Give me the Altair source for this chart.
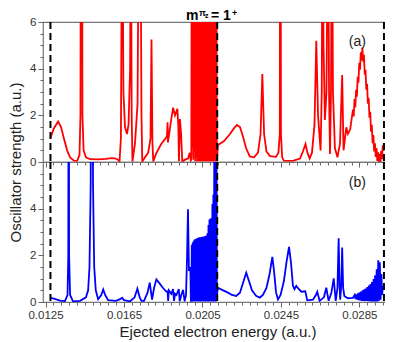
import altair as alt
import pandas as pd

# ---------------- data ----------------
X_DOMAIN = [0.01237, 0.03016]
Y_DOMAIN = [0, 6]
thresholds = [0.01275, 0.02125, 0.02975]

x_tick_labels = [0.0125, 0.0165, 0.0205, 0.0245, 0.0285]
y_tick_labels_top = [0, 2, 4, 6]
y_tick_labels_bot = [0, 2, 4]

# red curve (panel a), part 1: threshold -> dense block
red_x_1 = [0.01275, 0.01293, 0.01314, 0.01329, 0.01344, 0.01360, 0.01375, 0.01395, 0.01411,
           0.01423, 0.01428, 0.01431, 0.01435, 0.01438, 0.01444,
           0.01456, 0.01477, 0.01518, 0.01558, 0.01584, 0.01604, 0.01619, 0.01627, 0.01634,
           0.01641, 0.01647, 0.01655, 0.01665, 0.01673, 0.01681, 0.01685, 0.01689, 0.01693,
           0.01706, 0.01719, 0.01726, 0.01733, 0.01739, 0.01743, 0.01757, 0.01773, 0.01785,
           0.01790, 0.01795, 0.01799, 0.01813, 0.01838, 0.01869, 0.01872, 0.01874, 0.01885,
           0.01900, 0.01910, 0.01922, 0.01927, 0.01930, 0.01935, 0.01941, 0.01947, 0.01961,
           0.01976, 0.01985, 0.01991]
red_y_1 = [1.04, 1.45, 1.73, 1.5, 1.0, 0.5, 0.2, 0.06, 0.05,
           0.3, 2.0, 20, 20, 2.0, 0.5,
           0.2, 0.12, 0.11, 0.13, 0.17, 0.16, 0.10, 0.02, 1.0,
           12, 3, 1.5, 1.2, 1.6, 4, 12, 2, 0.02,
           0.8, 2.5, 12, 12, 2.0, 0.02, 0.2, 0.4, 1.0,
           5.25, 0.8, 0.02, 0.35, 0.75, 1.1, 1.7, 0.84, 1.5,
           2.33, 2.0, 2.28, 1.5, 0.03, 1.84, 1.2, 0.02, 0.1,
           0.15, 0.4, 0.02]

# energies of the dense resonance series below the middle threshold
dense_x = [0.019930, 0.019955, 0.019980, 0.020005, 0.020030, 0.020055, 0.020080, 0.020105,
           0.020130, 0.020155, 0.020180, 0.020205, 0.020230, 0.020255, 0.020280, 0.020305,
           0.020330, 0.020355, 0.020380, 0.020405, 0.020430, 0.020455, 0.020480, 0.020505,
           0.020530, 0.020555, 0.020580, 0.020605, 0.020630, 0.020655, 0.020680, 0.020705,
           0.020730, 0.020755, 0.020780, 0.020805, 0.020830, 0.020855, 0.020880, 0.020905,
           0.020930, 0.020955, 0.020980, 0.021005, 0.021030, 0.021055, 0.021080, 0.021105,
           0.021130, 0.021155, 0.021180, 0.021205, 0.021230]
red_dense_y = [0.3, 12, 0.6, 12, 0.1, 12, 0.45, 12, 0.02, 12, 0.2, 12, 0.02, 12,
               0.02, 12, 0.02, 12, 0.02, 12, 0.02, 12, 0.02, 12, 0.02, 12,
               0.02, 12, 0.02, 12, 0.02, 12, 0.02, 12, 0.02, 12, 0.02, 12,
               0.02, 12, 0.02, 12, 0.02, 12, 0.02, 12, 0.02, 12, 0.02, 12,
               0.02, 12, 0.02]

# red curve, part 2: middle threshold -> band
red_x_2 = [0.02129, 0.02160, 0.02190, 0.02211, 0.02226, 0.02241, 0.02256, 0.02272, 0.02291,
           0.02313, 0.02333, 0.02346, 0.02355, 0.02364, 0.02376, 0.02394, 0.02425,
           0.02437, 0.02444, 0.02447, 0.02450, 0.02456,
           0.02465, 0.02511, 0.02547, 0.02562, 0.02575, 0.02585, 0.02596, 0.02608, 0.02621,
           0.02630, 0.02639, 0.02652, 0.02658, 0.02662, 0.02667, 0.02674, 0.02682, 0.02690,
           0.02695, 0.02700, 0.02705, 0.02710, 0.02715, 0.02725, 0.02738, 0.02751, 0.02762,
           0.02769, 0.02783, 0.02791, 0.02803]
red_y_2 = [0.73, 0.9, 1.2, 1.45, 1.59, 1.5, 1.1, 0.6, 0.24,
           0.2, 0.4, 1.2, 3.77, 1.2, 0.45, 0.25, 0.22,
           0.4, 1.2, 20, 1.2, 0.2,
           0.06, 0.05, 0.15, 0.45, 0.77, 0.4, 0.15, 0.4, 1.6,
           5.2, 2.0, 0.49, 3, 12, 5, 1.8, 3, 12,
           3, 0.34, 3, 12, 3, 0.6, 0.2, 0.8, 3.73,
           0.5, 1.49, 1.2, 1.4]

# red curve, fast oscillating band below the upper threshold
red_x_band = [0.02817, 0.02821, 0.02825, 0.02829, 0.02833, 0.02837, 0.02841, 0.02845, 0.02849,
              0.02853, 0.02857, 0.02861, 0.02865, 0.02869, 0.02873, 0.02877, 0.02881, 0.02885,
              0.02889, 0.02893, 0.02897, 0.02901, 0.02905, 0.02909, 0.02913, 0.02917, 0.02921,
              0.02925, 0.02929, 0.02933, 0.02937, 0.02941, 0.02945, 0.02949, 0.02953, 0.02957,
              0.02961, 0.02965, 0.02969, 0.02973, 0.02975]
red_y_band = [2.25, 1.95, 2.7, 2.35, 3.1, 2.8, 3.65, 3.4, 4.25,
              3.95, 4.7, 4.35, 4.9, 4.3, 4.6, 3.75, 3.95, 3.1,
              3.35, 2.5, 2.75, 1.9, 2.15, 1.3, 1.6, 0.8, 1.15,
              0.45, 0.8, 0.22, 0.6, 0.05, 0.42, 0.0, 0.35, 0.0,
              0.48, 0.12, 0.72, 0.48, 0.7]

# blue curve (panel b)
blue_x_1 = [0.01275, 0.01293, 0.01324, 0.01349, 0.01362, 0.01366, 0.01368, 0.01370, 0.01375,
            0.01390, 0.01426, 0.01456, 0.01467, 0.01474, 0.01480, 0.01486, 0.01492, 0.01498,
            0.01506, 0.01518, 0.01534, 0.01544, 0.01554, 0.01569, 0.01609, 0.01630, 0.01640,
            0.01650, 0.01681, 0.01704, 0.01718, 0.01730, 0.01739, 0.01752, 0.01770, 0.01781,
            0.01788, 0.01793, 0.01803, 0.01815, 0.01831, 0.01849, 0.01866, 0.01872, 0.01875,
            0.01878, 0.01891, 0.01900, 0.01905, 0.01910, 0.01917, 0.01929, 0.01934, 0.01942,
            0.01951, 0.01959, 0.01966, 0.01971, 0.01976, 0.01981, 0.01988, 0.01991]
blue_y_1 = [0.18, 0.14, 0.06, 0.04, 0.3, 2.0, 20, 2.0, 0.3,
            0.03, 0.05, 0.2, 0.5, 1.5, 5, 20, 5, 1.5,
            0.5, 0.12, 0.3, 0.54, 0.3, 0.08, 0.05, 0.12, 0.18,
            0.08, 0.03, 0.2, 0.57, 0.2, 0.05, 0.05, 0.4, 0.83,
            0.4, 0.1, 0.6, 0.97, 0.8, 0.6, 0.45, 0.45, 0.05,
            0.5, 0.35, 0.55, 0.05, 0.35, 0.3, 0.55, 0.03, 0.3,
            0.52, 0.03, 0.3, 1.83, 3.97, 1.33, 1.5, 0.05]
blue_dense_y = [0.05, 2.45, 0.02, 2.55, 0.02, 2.62, 0.02, 2.68, 0.02, 2.7, 0.02, 2.72,
                0.02, 2.74, 0.02, 2.76, 0.02, 2.77, 0.02, 2.78, 0.02, 2.79, 0.02, 2.8,
                0.02, 2.8, 0.02, 2.82, 0.02, 2.83, 0.02, 2.85, 0.02, 2.95, 0.02, 3.3,
                0.02, 3.54, 0.02, 3.57, 0.02, 3.6, 0.02, 4.2, 0.02, 4.6, 0.02, 8,
                0.02, 12, 0.02, 12, 0.3]
blue_x_2 = [0.02129, 0.02155, 0.02180, 0.02200, 0.02222, 0.02241, 0.02256, 0.02273, 0.02287,
            0.02302, 0.02323, 0.02342, 0.02358, 0.02376, 0.02392, 0.02406, 0.02415, 0.02425,
            0.02435, 0.02448, 0.02465, 0.02478, 0.02491, 0.02501, 0.02511, 0.02519, 0.02528,
            0.02537, 0.02554, 0.02574, 0.02584, 0.02613, 0.02628, 0.02635, 0.02647, 0.02669,
            0.02681, 0.02693, 0.02707, 0.02719, 0.02729, 0.02738, 0.02744, 0.02749, 0.02752,
            0.02758, 0.02762, 0.02767, 0.02773, 0.02791, 0.02817]
blue_y_2 = [0.61, 0.5, 0.4, 0.3, 0.26, 0.4, 0.8, 1.26, 0.9,
            0.5, 0.27, 0.19, 0.3, 0.6, 1.2, 1.93, 1.3, 0.4,
            0.11, 0.3, 0.9, 1.7, 2.36, 1.7, 0.7, 0.55, 0.69,
            0.59, 0.44, 0.46, 0.07, 0.1, 0.3, 0.44, 0.05, 0.2,
            0.61, 0.05, 0.4, 1.01, 0.05, 0.6, 2.73, 0.6, 0.1,
            0.8, 2.33, 0.6, 0.26, 0.16, 0.18]
blue_x_band = [0.02826, 0.02830, 0.02834, 0.02838, 0.02842, 0.02846, 0.02850, 0.02854, 0.02858,
               0.02862, 0.02866, 0.02870, 0.02874, 0.02878, 0.02882, 0.02886, 0.02890, 0.02894,
               0.02898, 0.02902, 0.02906, 0.02910, 0.02914, 0.02918, 0.02922, 0.02926, 0.02930,
               0.02934, 0.02938, 0.02942, 0.02946, 0.02950, 0.02954, 0.02958, 0.02962, 0.02966,
               0.02969]
blue_y_band = [0.3, 0.12, 0.33, 0.1, 0.37, 0.08, 0.41, 0.07, 0.45,
               0.05, 0.5, 0.05, 0.54, 0.04, 0.58, 0.04, 0.64, 0.03,
               0.7, 0.03, 0.77, 0.02, 0.86, 0.02, 0.98, 0.02, 1.15,
               0.02, 1.4, 0.02, 1.79, 0.05, 1.7, 0.1, 1.2, 0.3,
               0.69]

panel_labels = ["(a)", "(b)"]
panel_label_x = [0.02839, 0.02839]
panel_label_y = [5.13, 5.11]

title_parts = ["m", "\u03c0", "z", "= 1", "+"]

# ---------------- build tables ----------------
rx = red_x_1 + dense_x + red_x_2 + red_x_band
ry = red_y_1 + red_dense_y + red_y_2 + red_y_band
bx = blue_x_1 + dense_x + blue_x_2 + blue_x_band
by = blue_y_1 + blue_dense_y + blue_y_2 + blue_y_band
assert len(rx) == len(ry), (len(rx), len(ry))
assert len(bx) == len(by), (len(bx), len(by))
df_red = pd.DataFrame({"x": rx, "y": ry, "i": list(range(len(rx)))})
df_blue = pd.DataFrame({"x": bx, "y": by, "i": list(range(len(bx)))})
df_thr = pd.DataFrame({"x": thresholds})
df_lab_a = pd.DataFrame({"x": [panel_label_x[0]], "y": [panel_label_y[0]], "t": [panel_labels[0]]})
df_lab_b = pd.DataFrame({"x": [panel_label_x[1]], "y": [panel_label_y[1]], "t": [panel_labels[1]]})

FONT = "Liberation Sans"
W, H = 349, 140

x_minor = [round(0.0125 + 0.0004 * k, 5) for k in range(45)]
y_minor = [0.5 * k for k in range(13)]

xscale = alt.Scale(domain=X_DOMAIN, nice=False, zero=False)
yscale = alt.Scale(domain=Y_DOMAIN, nice=False)

AX = dict(domain=False, grid=False, tickColor="#666")


def panel(df, color, dflab, is_top):
    if is_top:
        x_major_axis = alt.Axis(values=x_tick_labels, labels=False, title=None, orient="bottom",
                                tickSize=5, **AX)
        y_major_axis = alt.Axis(values=y_tick_labels_top, title="Oscillator strength (a.u.)",
                                orient="left", tickSize=5, labelPadding=2,
                                titleY=140, titlePadding=6, **AX)
    else:
        x_major_axis = alt.Axis(values=x_tick_labels, format=".4f", title="Ejected electron energy (a.u.)",
                                orient="bottom", tickSize=5, labelPadding=2, titlePadding=4,
                                labelOverlap=False, **AX)
        y_major_axis = alt.Axis(values=y_tick_labels_bot, title=None, orient="left",
                                tickSize=5, labelPadding=2, **AX)
    x_minor_axis = alt.Axis(values=x_minor, labels=False, title=None, orient="bottom", tickSize=3, **AX)
    y_minor_axis = alt.Axis(values=y_minor, labels=False, title=None, orient="left", tickSize=3, **AX)

    line = alt.Chart(df).mark_line(color=color, strokeWidth=1.8, clip=True).encode(
        x=alt.X("x:Q", scale=xscale, axis=x_major_axis),
        y=alt.Y("y:Q", scale=yscale, axis=y_major_axis),
        order="i:Q",
    )
    lab = alt.Chart(dflab).mark_text(font=FONT, fontSize=14, color="#222", align="center",
                                     baseline="middle").encode(
        x=alt.X("x:Q", scale=xscale, axis=x_minor_axis),
        y=alt.Y("y:Q", scale=yscale, axis=y_minor_axis),
        text="t:N")
    rules = alt.Chart(df_thr).mark_rule(color="black", strokeWidth=2, strokeDash=[7, 4]).encode(
        x=alt.X("x:Q", scale=xscale, axis=None)
    )
    layers = [line, lab, rules]
    if is_top:
        specs = [  # (text, x, y, size)
            (title_parts[0], 143, -2, 14),
            (title_parts[1], 156, -6, 9),
            (title_parts[2], 162, -4, 7),
            (title_parts[3], 168, -2, 14),
            (title_parts[4], 189, -6, 9),
        ]
        for t, px, py, fs in specs:
            layers.append(
                alt.Chart(pd.DataFrame({"t": [t]})).mark_text(
                    font=FONT, fontSize=fs, fontWeight="bold", color="black",
                    align="left", baseline="alphabetic"
                ).encode(x=alt.value(px), y=alt.value(py), text="t:N")
            )
    return alt.layer(*layers).resolve_axis(x="independent", y="independent").properties(width=W, height=H)


top = panel(df_red, "#ff0000", df_lab_a, True)
bot = panel(df_blue, "#0000ff", df_lab_b, False)

chart = alt.vconcat(top, bot, spacing=0, bounds="flush").properties(
    padding={"left": 0, "top": 0, "right": -8, "bottom": 0}
).configure_view(
    stroke="#777", strokeWidth=1.2
).configure_axis(
    labelFont=FONT, labelFontSize=11.5, labelColor="#333",
    titleFont=FONT, titleFontSize=15, titleFontWeight="normal", titleColor="#222",
)

chart.save("out.html", embed_options={"renderer": "svg", "actions": False})
